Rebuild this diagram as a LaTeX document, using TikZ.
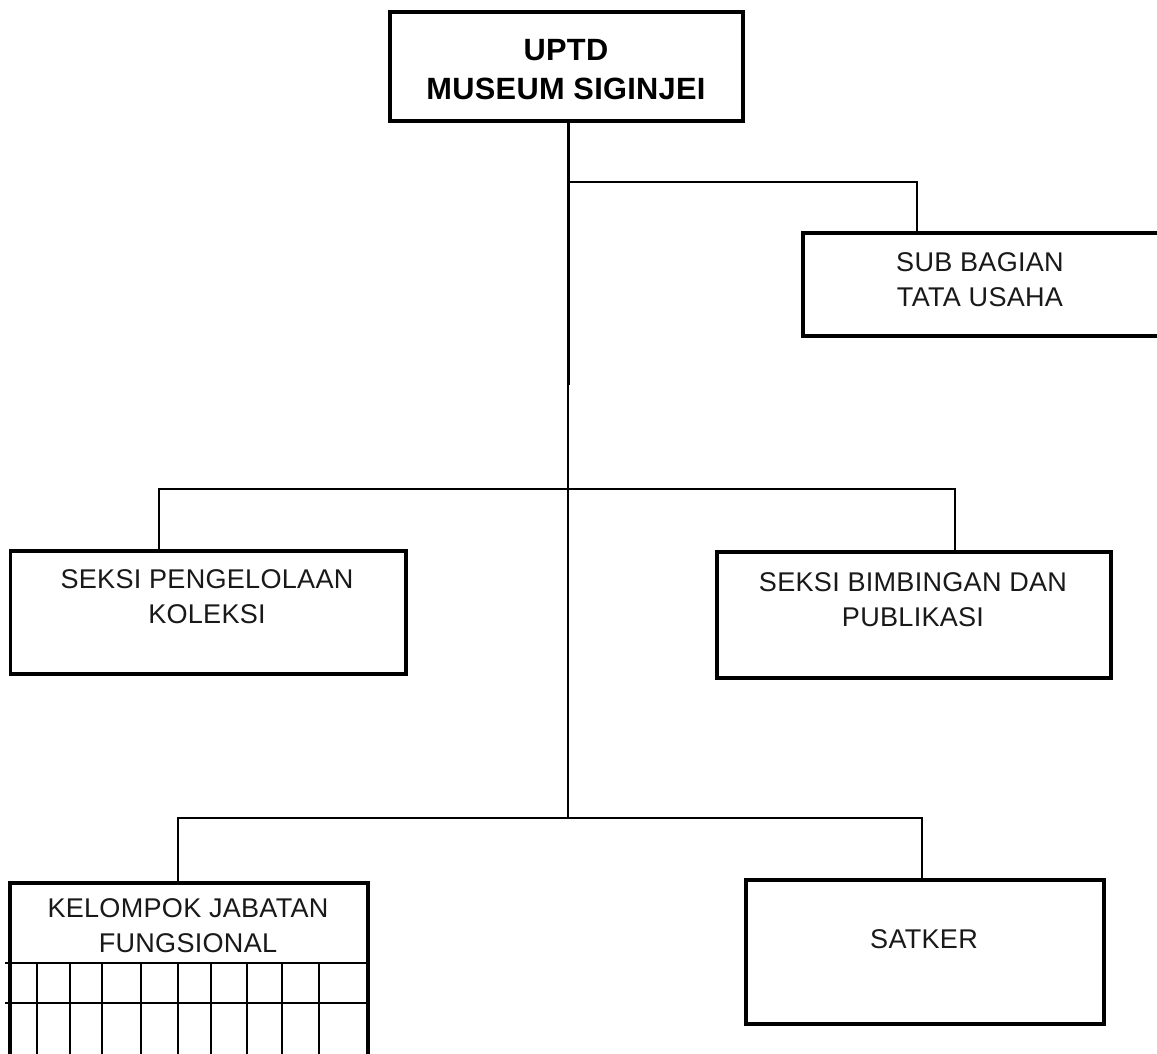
\documentclass[tikz,border=0pt]{standalone}
\usepackage{fontspec}
\setmainfont{Liberation Sans}
\newfontfamily\lblfont[LetterSpace=1]{Liberation Sans}
\usetikzlibrary{calc}
\begin{document}
\def\u{0.02cm}
\begin{tikzpicture}[x=0.02cm,y=-0.02cm,
  box/.style={draw=black, line width=0.08cm, rectangle, inner sep=0pt, outer sep=0pt},
  conn/.style={draw=black, line width=0.04cm},
  connthick/.style={draw=black, line width=0.06cm},
  gridline/.style={draw=black, line width=0.04cm},
  lbl/.style={align=center, inner sep=0pt, text=black!90, font=\lblfont\fontsize{15.4}{19.9}\selectfont},
  toplbl/.style={align=center, inner sep=0pt, font=\lblfont\bfseries\fontsize{17.5}{22.2}\selectfont}]
\useasboundingbox (0,0) rectangle (1157,1054);
\fill[white] (0,0) rectangle (1157,1054);
\clip (0,0) rectangle (1157,1054);

% boxes
\node[box, minimum width={353*\u}, minimum height={109*\u}] (top) at (566,67) {};
\node[box, minimum width={357*\u}, minimum height={102.3*\u}] (sub) at (981.5,284.6) {};
\node[box, minimum width={395*\u}, minimum height={123.5*\u}] (sek1) at (208,612.5) {};
\node[box, minimum width={393.6*\u}, minimum height={126.6*\u}] (sek2) at (914,615) {};
\node[box, minimum width={357.5*\u}, minimum height={197*\u}] (kel) at (188.75,981) {};
\node[box, minimum width={358*\u}, minimum height={143.3*\u}] (sat) at (925,952) {};

% labels
\node[toplbl] (topT) at (566,70) {UPTD\\MUSEUM SIGINJEI};
\node[lbl] (subT) at (980,280) {SUB BAGIAN\\TATA USAHA};
\node[lbl] (sek1T) at (207,596.5) {SEKSI PENGELOLAAN\\KOLEKSI};
\node[lbl] (sek2T) at (913,600) {SEKSI BIMBINGAN DAN\\PUBLIKASI};
\node[lbl] (kelT) at (188,925.5) {KELOMPOK JABATAN\\FUNGSIONAL};
\node[lbl] (satT) at (924,939) {SATKER};

% junction coordinates
\coordinate (j1) at (568,182);
\coordinate (jm) at (568,385);
\coordinate (j3) at (568,818);
\coordinate (d1) at (917,182);
\coordinate (l2L) at (159,489);
\coordinate (l2R) at (955,489);
\coordinate (l3L) at (178,818);
\coordinate (l3R) at (922,818);

% connectors
\draw[connthick] (top.south -| j1) -- (jm);
\draw[conn] (jm) -- (j3);
\draw[conn] (j1) -- (d1) -- (d1 |- sub.north);
\draw[conn] (l2L |- sek1.north) -- (l2L) -- (l2R) -- (l2R |- sek2.north);
\draw[conn] (l3L |- kel.north) -- (l3L) -- (l3R) -- (l3R |- sat.north);

% grid inside KELOMPOK JABATAN FUNGSIONAL
\coordinate (g1) at (5,963);
\coordinate (g2) at (5,1003);
\draw[gridline] (g1) -- (g1 -| kel.east);
\draw[gridline] (g2) -- (g2 -| kel.east);
\foreach \gx in {37,70,102,141,178,211,247,282,319}{
  \draw[gridline] (\gx,963) -- (\gx,1060);
}
\end{tikzpicture}
\end{document}
